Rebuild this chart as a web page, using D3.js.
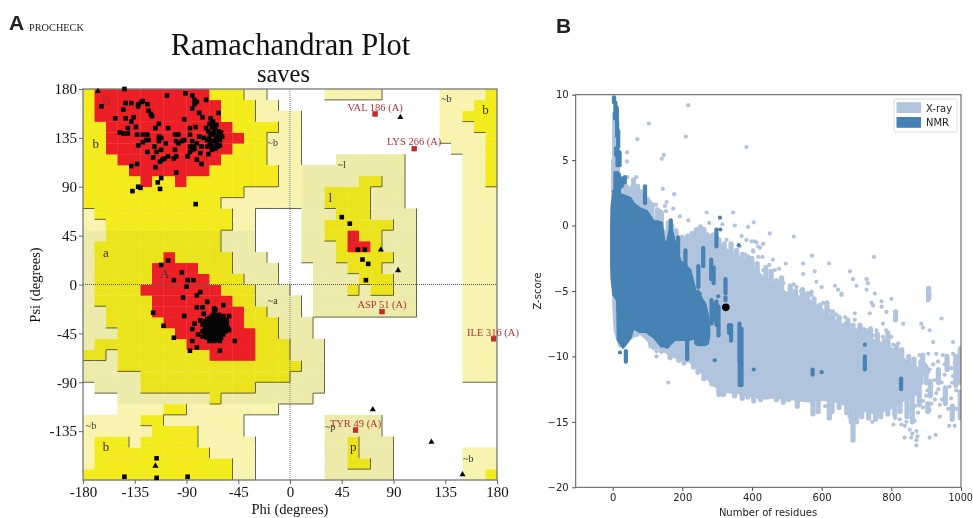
<!DOCTYPE html>
<html>
<head>
<meta charset="utf-8">
<script src="https://cdn.jsdelivr.net/npm/d3@7"></script>
<style>
  html, body { margin: 0; padding: 0; background: #fff; }
  svg { display: block; filter: blur(0.55px); }
  .rama text { font-family: "Liberation Serif", serif; }
  .zplot text { font-family: "DejaVu Sans", sans-serif; }
</style>
</head>
<body>
<svg id="chart" width="973" height="518"></svg>
<script>
// Ramachandran regions, each row is [psi top, psi bottom, phi left, phi right]
const paleRows = [
  [180,170,-180,-20],[180,170,30,80],[180,130,130,180],[170,160,-180,-10],[160,110,-180,10],
  [130,120,140,180],[120,-90,150,180],[120,110,40,100],[110,70,-180,100],[70,30,-180,-30],
  [30,20,-180,-20],[20,0,-180,-10],[0,-10,-180,0],[-10,-30,-180,10],[-30,-50,-180,20],
  [-50,-90,-180,30],[-90,-100,-170,30],[-100,-110,-150,20],[-110,-120,-150,-10],
  [-120,-140,-180,-40],[-140,-180,-180,-30],[70,20,10,110],[20,-30,20,110],
  [-120,-140,30,80],[-140,-180,30,90],[-150,-180,150,180]
];
const yellowRows = [
  [180,170,-180,-40],[170,150,-180,-30],[150,140,-180,-10],[140,110,-180,-20],[110,90,-180,-10],
  [90,80,-180,-40],[80,70,-180,-60],[70,60,-170,-50],[60,50,-160,-50],[50,40,-160,-60],
  [40,30,-170,-60],[30,10,-170,-50],[10,0,-170,-40],[0,-20,-170,-30],[-20,-30,-160,-20],
  [-30,-40,-160,-10],[-40,-50,-150,-10],[-50,-60,-170,0],[-60,-70,-180,-160],[-60,-70,-150,0],
  [-70,-80,-150,10],[-80,-90,-130,0],[-90,-100,-130,-30],[-100,-110,-70,-60],
  [-110,-120,-110,-90],[-120,-130,-130,-110],[-130,-140,-120,-80],[-140,-150,-170,-140],
  [-140,-150,-130,-80],[-150,-160,-170,-70],[-160,-170,-170,-50],[-170,-180,-180,-50],
  [100,90,60,80],[90,70,30,70],[70,60,40,70],[60,50,30,90],[50,40,30,80],[40,30,40,80],
  [30,20,40,90],[20,10,50,80],[10,0,60,90],[0,-10,50,60],[0,-10,70,90],
  [-140,-160,50,60],[-160,-170,50,70],
  [180,170,170,180],[170,160,160,180],[160,150,150,180],[150,140,160,180],[140,90,170,180],
  [-170,-180,170,180]
];
const redRows = [
  [180,170,-170,-70],[170,150,-170,-60],[150,140,-160,-50],[140,130,-160,-40],[130,120,-160,-50],
  [120,110,-150,-60],[110,100,-140,-70],[100,90,-130,-120],[100,90,-100,-90],
  [30,20,-110,-100],[20,10,-120,-80],[10,0,-120,-70],[0,-10,-130,-60],[-10,-20,-120,-50],
  [-20,-30,-120,-40],[-30,-40,-110,-40],[-40,-50,-100,-30],[-50,-60,-90,-30],[-60,-70,-70,-30],
  [50,40,50,60],[40,30,50,70]
];
// parts of the scan that came out slightly greener
const tintRows = [[50,-110,-180,40],[120,-30,10,110],[-120,-180,30,90]];

const regionLabels = [
  ["B",-160,168,"#b0242c"],["b",-169,128,"#333"],["~b",-15,130,"#333"],["a",-160,28,"#333"],
  ["A",-109,9,"#333"],["~a",-15,-16,"#333"],["~l",45,109,"#333"],["l",35,79,"#333"],
  ["L",54,43,"#a5262e"],["~b",136,170,"#333"],["b",170,160,"#333"],["~b",-173,-131,"#333"],
  ["b",-160,-151,"#333"],["~p",35,-132,"#333"],["p",55,-151,"#333"],["~b",155,-161,"#333"]
];

const generalResidues = [
  [-144,180],[-164,164],[-143,167],[-138,167],[-145,161],[-132,166],[-129,168],[-128,169],[-124,166],[-132,164],
  [-123,160],[-121,157],[-120,155],[-152,153],[-143,153],[-136,154],[-138,150],[-141,144],[-148,140],[-145,139],
  [-141,139],[-134,145],[-133,138],[-107,174],[-91,176],[-85,174],[-83,170],[-81,168],[-83,166],[-73,170],
  [-85,162],[-79,158],[-76,154],[-62,158],[-92,152],[-114,148],[-117,144],[-106,144],[-87,144],[-82,145],
  [-87,138],[-73,144],[-128,138],[-124,138],[-114,136],[-112,135],[-125,133],[-123,133],[-128,131],[-132,128],
  [-114,132],[-118,127],[-108,130],[-124,122],[-119,117],[-116,122],[-112,124],[-100,138],[-97,138],[-99,132],
  [-97,130],[-94,132],[-92,133],[-100,124],[-106,118],[-109,116],[-111,115],[-113,113],[-101,116],[-99,118],
  [-89,118],[-85,132],[-87,127],[-84,127],[-85,124],[-87,122],[-83,125],[-79,136],[-75,135],[-77,127],
  [-81,130],[-78,121],[-71,120],[-81,115],[-77,111],[-138,109],[-133,111],[-117,108],[-99,103],[-112,98],
  [-115,94],[-137,86],[-132,90],[-130,89],[-113,88],[-82,74],
  [-69,153],[-67,150],[-70,148],[-67,148],[-64,147],[-68,145],[-65,144],[-71,141],[-69,139],[-67,138],
  [-62,141],[-59,136],[-64,135],[-61,133],[-70,135],[-72,133],[-67,132],[-64,130],[-61,128],[-67,127],
  [-70,128],[-65,125],[-68,124],[-66,141],[-63,137],[-69,131],[-63,127],[-65,133],[-60,140],[-72,127],
  [-106,22],[-112,18],[-94,11],[-101,4],[-89,4],[-84,4],[-90,-2],[-78,-7],[-81,-10],[-93,-12],
  [-72,-16],[-81,-21],[-76,-21],[-66,-22],[-65,-23],[-58,-19],[-75,-27],[-119,-26],[-92,-29],[-110,-38],
  [-83,-36],[-78,-33],[-85,-41],[-101,-49],[-80,-46],[-85,-52],[-81,-58],[-87,-61],[-61,-61],[-48,-52],
  [-53,-29],[-53,-42],
  [-66,-28],[-62,-28],[-58,-29],[-70,-31],[-66,-31],[-62,-31],[-58,-32],[-55,-33],[-74,-34],[-70,-34],
  [-66,-34],[-62,-34],[-58,-35],[-55,-36],[-76,-37],[-72,-37],[-68,-37],[-64,-37],[-60,-37],[-56,-38],
  [-74,-40],[-70,-40],[-66,-40],[-62,-40],[-58,-40],[-54,-40],[-76,-43],[-72,-43],[-68,-43],[-64,-43],
  [-60,-43],[-56,-43],[-74,-46],[-70,-46],[-66,-46],[-62,-46],[-58,-46],[-72,-49],[-68,-49],[-64,-49],
  [-60,-49],[-70,-52],[-66,-52],[-61,-52],[-76,-48],[-66,-26],
  [-68,-29],[-64,-30],[-60,-30],[-72,-32],[-68,-33],[-64,-33],[-60,-33],[-70,-36],[-66,-36],[-62,-36],
  [-58,-37],[-72,-39],[-68,-39],[-64,-39],[-60,-39],[-56,-41],[-74,-42],[-70,-42],[-66,-42],[-62,-42],
  [-58,-42],[-72,-45],[-68,-45],[-64,-45],[-60,-45],[-70,-48],[-66,-48],[-62,-48],[-68,-51],[-64,-51],
  [45,62],[52,56],[59,32],[65,32],[63,23],[68,19],[66,4],
  [-144,-177],[-116,-160],[-116,-178],[-89,-177]
];
const glycines = [[-167,178],[96,154],[79,32],[94,13],[72,-115],[123,-145],[150,-175],[-117,-167]];
// label, phi and psi of the residue, phi and psi of its caption
const outliers = [
  ["VAL 186 (A)",74,157,74,160],["LYS 266 (A)",108,125,108,128],["ASP 51 (A)",80,-25,80,-21.6],
  ["ILE 316 (A)",177,-50,176.5,-47.4],["TYR 49 (A)",57,-134,57,-131]
];
const phiTicks = [-180,-135,-90,-45,0,45,90,135,180];
const psiTicks = [-135,-90,-45,0,45,90,135,180];

// Z-score panel, dense clouds are read as upper and lower edges
const xrayRes = [3,7,20,30,50,78,100,117,135,155,175,193,222,250,280,298,330,365,400,430,460,500,530,560,600,640,670,700,750,795,843,881];
const xrayTop = [2,2.5,3.4,3.4,2.7,1.5,1,0.5,0.2,-0.8,-1.2,-1.6,-0.9,-0.4,-1,-1.3,-1.9,-2.5,-3.2,-3.9,-4.5,-5.2,-5.4,-5.7,-6.4,-7.3,-7.8,-8.2,-8.8,-9.3,-10.4,-11];
const xrayBottom = [-6,-8,-9.2,-9,-8.6,-8.2,-8.7,-9.4,-9.3,-9.7,-10,-10.2,-10.4,-11,-11.9,-12.3,-12.7,-12.8,-13,-13.2,-13.1,-13.2,-13.3,-13.4,-13.3,-13.4,-13.7,-14,-14.3,-14,-13.2,-12.6];
const nmrRes = [-3,-2,3,14,16,30,50,59,78,97,117,128,140,148,157,167,178,188,193,222,236,242];
const nmrTop = [0,1.5,2.4,2.5,2.4,2.3,2.1,1.7,1.3,1.1,0.3,0.3,0.2,-1.3,-1.3,-0.1,-1.3,-2.1,-2.7,-3.4,-4.9,-5.4];
const nmrBottom = [-3,-4,-5.3,-5.7,-8.7,-9.3,-8.6,-7.8,-8.1,-8.1,-8.5,-8.8,-9.2,-9.2,-9.3,-9,-8.7,-8.7,-8.7,-8.7,-8.6,-8.6];
const nmrPatchRes = [238,245,255,265,272,276];
const nmrPatchTop = [-5.2,-5,-5.6,-6,-6.8,-7.5];
const nmrPatchBottom = [-9,-9.1,-9.1,-9.1,-9,-8.5];

// runs of points stacked at one chain length: [residues, top, bottom]
const xrayColumns = [
  [6,8,4.5],[10,7,4.7],[3,5,2],[14,5,3],
  [60,3.5,1],[72,3,1],[85,2.6,0.5],[100,2,0],[112,1.6,0],[128,1.2,-1],[140,1,-1],[160,0.2,-2],
  [170,0,-2],[182,-0.4,-3],[200,-0.9,-3],[215,-0.8,-3],[228,-0.6,-3],[240,-0.3,-3],[252,-0.1,-3],[262,-0.3,-3],
  [272,-0.7,-3],[288,-0.7,-3],[305,-1.1,-4],[320,-1.4,-4],[340,-1.4,-4],[356,-1.9,-4],[372,-2.2,-4],[388,-2.4,-4],
  [400,-2.5,-5],[415,-2.9,-5],[440,-3.2,-5],[455,-3.5,-6],[470,-4.2,-6],[485,-4,-6],[510,-4.6,-7],[525,-5,-7],
  [545,-4.9,-7],[560,-5.2,-7],[578,-5.6,-7.5],[595,-6.1,-8],[615,-5.9,-8],[632,-6.6,-9],[650,-7,-9],[675,-7.2,-9.5],
  [690,-7.6,-9.5],[710,-7.6,-10],[725,-8,-10],[740,-7.9,-10],[760,-8.3,-10],[780,-8.8,-10.5],[790,-8.2,-10.5],[815,-9.2,-11],
  [830,-9.5,-11],[850,-10,-11.5],[865,-10.2,-11.5],[885,-10.4,-12],[900,-10.8,-12],
  [70,-7,-8.3],[110,-8,-9.2],[140,-8,-9.6],[165,-8,-10.1],[190,-8,-10.3],[205,-9,-10.5],[232,-9,-10.8],[245,-10,-11.2],
  [262,-10,-11.7],[285,-11,-12.1],[305,-11,-12.9],[318,-11,-12.9],[335,-11,-12.6],[350,-11,-13],[372,-12,-13.2],[388,-12,-13.1],
  [405,-12,-13.4],[425,-12,-13.3],[445,-12,-13.1],[470,-12,-13.3],[490,-12,-13.5],[505,-12,-13.3],[530,-12.5,-13.8],[548,-12.5,-13.3],
  [575,-13,-14.4],[590,-13,-14.2],[622,-13,-14.7],[630,-13,-14.2],[650,-13,-13.9],[672,-13,-14.3],[685,-13.5,-15],[700,-13.5,-15],
  [715,-13,-14.6],[735,-13.5,-14.7],[755,-13.5,-14.8],[770,-13.5,-14.6],[790,-13.5,-14.4],[810,-13,-14.5],[825,-13,-14.2],[845,-13,-14.6],
  [860,-12.5,-15],[880,-12.5,-13.7],
  [998,-9.4,-12],[998,-12.7,-14.7],[890,-9.9,-11.3],[912,-11.9,-13],[935,-11,-12],[960,-10,-11],[955,-12.4,-13.6],[975,-13.8,-14.8],
  [985,-10,-12.2],[870,-11,-12.8],[905,-13.6,-14.2],[690,-14.8,-16.4],[812,-6.6,-7.2],[907,-4.8,-5.6]
];
const nmrColumns = [
  [4,9.8,9.4],[8,9.4,8.8],[12,9,8],[6,8.6,8.2],[13,7.9,6.8],[16,7.2,6],[10,5.9,5.4],[14,5.8,4.6],[20,5.6,4.6],
  [8,4,2.4],[13,4,2.4],[18,3.9,2.4],[26,3.6,3],[35,3.7,3.3],[93,3,1.7],
  [298,-0.3,-1.6],[260,-1.7,-3.1],[209,-1.9,-3.4],[188,-0.9,-2.1],[167,0.4,-1],[246,-3.1,-4.7],[283,-2.6,-4.1],[290,-3.2,-4.4],
  [324,-4.1,-5.2],[324,-5.5,-5.7],[284,-5.7,-7.5],[288,-6,-7.2],[298,-5.8,-7.6],[304,-6.2,-8.4],
  [364,-7.5,-10.4],[368,-8,-12],[370,-7.9,-12.2],[365,-10.5,-12.2],[38,-9.6,-10.4],[574,-11,-11.4],[724,-10,-11],[828,-11.7,-12.5],
  [214,-8.5,-10.2],[334,-7.6,-8.2],[340,-7.6,-8.8]
];
const xrayPoints = [
  [217,9.2],[104,7.8],[210,6.8],[71,6.6],[384,6],[147,5.4],[141,5.1],[41,5.6],[41,4.9],[68,3.7],
  [144,2.8],[177,2.4],[42,3.7],[54,2.9],[107,1.8],[124,1.6],[155,1.8],
  [150,1.5],[174,1.3],[136,1.1],[153,1.1],[117,1.5],[270,1],[346,1],[217,0.4],[193,0.7],[277,0.2],
  [315,0.1],[351,0],[389,-0.1],[405,0.25],[250,-0.2],[279,-0.8],[327,-1.1],
  [370,-0.8],[384,-1.1],[399,-1.2],[413,-1.3],[365,-1.6],[317,-1.7],[403,-1.9],[418,-1.6],
  [451,-0.6],[520,-0.84],[572,-2.3],[750,-2.4],[621,-2.9],[547,-2.9],[497,-2.9],[681,-3.5],[580,-3.5],[547,-3.7],
  [585,-4.3],[690,-4.1],[729,-4.1],[733,-4.4],[700,-4.6],[647,-4.9],[657,-5.2],[729,-4.9],[753,-5.2],[800,-5.6],
  [638,-4.6],[571,-5.3],[600,-4.7],[528,-4.7],[490,-4.4],[466,-3.4],[478,-3.3],
  [432,-1.4],[408,-1.2],[404,-2],[423,-1.7],[418,-2.4],[430,-2.4],[432,-3.4],[413,-3.4],[504,-5.2],[450,-3],
  [520,-4.5],[540,-5],[460,-2.6],[380,-2.2],[340,-1.5],[300,-0.9],[160,-12],[4,-6],
  [126,-9.6],[126,-10],[571,-5.05],[604,-5.9],[614,-6.6],[622,-6.5],[590,-6.3],[657,-5.3],[642,-6.8],[667,-7],
  [667,-7.5],[633,-7.6],[695,-6.7],[695,-7.2],[743,-5.9],[748,-6.1],[772,-5.8],[772,-6.2],[786,-6.6],
  [834,-7.5],[776,-7.5],[738,-6.7],[700,-8],[757,-8],[776,-8.5],[800,-8.5],
  [805,-9.1],[767,-9],[810,-9.5],[824,-9.8],[748,-8.4],[886,-7.5],[891,-7.8],[910,-8],[944,-7.1],[920,-8.9],
  [977,-8.9],[905,-5.7],[910,-5.3],[660,-7.8],[680,-7.6],[720,-7.9],[730,-8.3],[785,-8],[820,-9],
  [881,-9.9],[891,-10.2],[906,-9.8],[929,-9.8],[948,-9.9],[977,-9.8],
  [896,-10.6],[910,-11],[920,-10.6],[934,-10.4],[953,-10.6],[972,-10.9],[982,-10.5],[934,-11.2],[953,-11.4],
  [977,-11.5],[881,-11.7],[900,-11.8],[924,-11.8],[944,-12],[967,-12.3],[986,-12.6],[881,-12.3],[904,-12.6],
  [929,-12.8],[953,-13.1],[972,-13.2],[891,-13.4],[915,-13.6],[939,-13.7],[963,-14],
  [939,-14.6],[877,-14.3],[891,-13.9],[853,-14],[867,-13.8],[986,-14],
  [905,-11.2],[915,-12.2],[935,-12.5],[975,-12],[960,-11],[900,-13],[925,-13.3],[945,-13.3],[910,-14.1],
  [872,-16.8],[872,-16.4],[875,-16.1],[872,-15.7],[853,-15.6],[839,-15.3],[838,-16.2],[857,-16.2],[806,-15.2],[910,-16.2],
  [927,-16],[966,-15.3],[982,-15.3],[745,-15],[811,-14.7],[824,-14.8],[829,-15.2],[843,-15],[867,-14.9],[860,-15.9],
  [680,-14.6],[760,-14.5],[610,-13.8]
];
const nmrPoints = [
  [308,0.6],[309,-0.3],[362,-1.5],[303,-5.4],[250,-5.2],[293,-10.3],[405,-11],[21,-9.7],[600,-11.2],[724,-9.1],[4,2.6]
];
const queryPoint = [[325,-6.25]];
const zTicks = [-20,-15,-10,-5,0,5,10];
const resTicks = [0,200,400,600,800,1000];
const legendItems = [["X-ray","#b0c4de"],["NMR","#4682b4"]];

const svg = d3.select("#chart");

//Left panel, the Ramachandran plot
const x = d3.scaleLinear().domain([-180, 180]).range([83, 497]);
const y = d3.scaleLinear().domain([-180, 180]).range([480, 89]);

// build a 10 degree grid of region levels so the borders can be worked out
const grid = d3.range(36).map(() => d3.range(36).map(() => 0));
const paint = (rows, level) => rows.forEach(([top, bottom, left, right]) => {
  for (let psi = bottom; psi < top; psi += 10) {
    for (let phi = left; phi < right; phi += 10) {
      grid[(phi + 180) / 10][(psi + 180) / 10] = level;
    }
  }
});
paint(paleRows, 1);
paint(yellowRows, 2);
paint(redRows, 3);

const isTinted = (phi, psi) =>
  tintRows.some(([top, bottom, left, right]) => psi < top && psi >= bottom && phi >= left && phi < right);
const cellColor = (level, phi, psi) => {
  if (level === 3) return "#ec1f26";
  if (level === 2) return isTinted(phi, psi) ? "#ebe41c" : "#f3eb1b";
  return isTinted(phi, psi) ? "#ecebaa" : "#f8f4b0";
};

const rama = svg.append("g").attr("class", "rama");
const cells = [];
grid.forEach((col, i) => col.forEach((level, j) => {
  if (level > 0) cells.push({ phi: -180 + i * 10, psi: -180 + j * 10, level, i, j });
}));

rama.append("g").selectAll("rect").data(cells).join("rect")
  .attr("x", (d) => x(d.phi))
  .attr("y", (d) => y(d.psi + 10))
  .attr("width", (d) => x(d.phi + 10) - x(d.phi) + 0.3)
  .attr("height", (d) => y(d.psi) - y(d.psi + 10) + 0.3)
  .attr("fill", (d) => cellColor(d.level, d.phi, d.psi));

// dark border on the right and lower edge of yellow and pale cells
const borders = [];
cells.filter((d) => d.level < 3).forEach((d) => {
  const rightLevel = d.i < 35 ? grid[d.i + 1][d.j] : 9;
  const belowLevel = d.j > 0 ? grid[d.i][d.j - 1] : 9;
  if (rightLevel < d.level) borders.push([d.phi + 10, d.psi, d.phi + 10, d.psi + 10]);
  if (belowLevel < d.level) borders.push([d.phi, d.psi, d.phi + 10, d.psi]);
});
rama.append("g").selectAll("line").data(borders).join("line")
  .attr("x1", (d) => x(d[0])).attr("y1", (d) => y(d[1]))
  .attr("x2", (d) => x(d[2])).attr("y2", (d) => y(d[3]))
  .attr("stroke", "#55553f").attr("stroke-width", 0.9);

// dotted zero lines
rama.append("line").attr("x1", x(0)).attr("x2", x(0)).attr("y1", y(180)).attr("y2", y(-180))
  .attr("stroke", "#777").attr("stroke-dasharray", "1,1");
rama.append("line").attr("x1", x(-180)).attr("x2", x(180)).attr("y1", y(0)).attr("y2", y(0))
  .attr("stroke", "#555").attr("stroke-dasharray", "1,1");

rama.append("rect").attr("x", x(-180)).attr("y", y(180))
  .attr("width", x(180) - x(-180)).attr("height", y(-180) - y(180))
  .attr("fill", "none").attr("stroke", "#777").attr("stroke-width", 1.3);

rama.append("g").selectAll("text").data(regionLabels).join("text")
  .attr("x", (d) => x(d[1])).attr("y", (d) => y(d[2]))
  .attr("text-anchor", "middle").attr("dominant-baseline", "middle")
  .attr("font-size", (d) => (d[0].length > 1 ? 10 : 13)).attr("fill", (d) => d[3])
  .text((d) => d[0]);

rama.append("g").selectAll("rect").data(generalResidues).join("rect")
  .attr("x", (d) => x(d[0]) - 2.3).attr("y", (d) => y(d[1]) - 2.3)
  .attr("width", 4.6).attr("height", 4.6).attr("fill", "#050505");

rama.append("g").selectAll("path").data(glycines).join("path")
  .attr("d", d3.symbol(d3.symbolTriangle, 16))
  .attr("transform", (d) => `translate(${x(d[0])},${y(d[1])})`)
  .attr("fill", "#050505");

rama.append("g").selectAll("rect").data(outliers).join("rect")
  .attr("x", (d) => x(d[1]) - 2.3).attr("y", (d) => y(d[2]) - 2.3)
  .attr("width", 4.6).attr("height", 4.6)
  .attr("fill", "#dd1f2a").attr("stroke", "#8a2a2a").attr("stroke-width", 0.6);

rama.append("g").selectAll("text").data(outliers).join("text")
  .attr("x", (d) => x(d[3])).attr("y", (d) => y(d[4]))
  .attr("text-anchor", "middle").attr("font-size", 10.5).attr("fill", "#b0333a")
  .text((d) => d[0]);

const phiAxis = d3.axisBottom(x).tickValues(phiTicks).tickSize(4).tickPadding(2);
const psiAxis = d3.axisLeft(y).tickValues(psiTicks).tickSize(4).tickPadding(2);

const ramaBottom = rama.append("g").attr("transform", `translate(0,${y(-180)})`).call(phiAxis);
const ramaLeft = rama.append("g").attr("transform", `translate(${x(-180)},0)`).call(psiAxis);
[ramaBottom, ramaLeft].forEach((a) => {
  a.select(".domain").remove();
  a.selectAll("line").attr("stroke", "#666");
  a.selectAll("text").attr("font-size", 15).attr("fill", "#111").attr("font-family", "Liberation Serif")
    .text((d) => String(d));
});

rama.append("text").attr("x", 290.5).attr("y", 55).attr("text-anchor", "middle")
  .attr("font-size", 30.5).attr("fill", "#111").text("Ramachandran Plot");
rama.append("text").attr("x", 283.5).attr("y", 82).attr("text-anchor", "middle")
  .attr("font-size", 24.5).attr("fill", "#111").text("saves");
rama.append("text").attr("x", 290).attr("y", 514).attr("text-anchor", "middle")
  .attr("font-size", 14.5).attr("fill", "#111").text("Phi (degrees)");
rama.append("text").attr("transform", "translate(40,285) rotate(-90)").attr("text-anchor", "middle")
  .attr("font-size", 14.5).attr("fill", "#111").text("Psi (degrees)");
rama.append("text").attr("x", 29).attr("y", 31).attr("font-size", 10.3).attr("fill", "#222").text("PROCHECK");

svg.append("text").attr("x", 9).attr("y", 30).attr("font-family", "Liberation Sans")
  .attr("font-weight", "bold").attr("font-size", 21).attr("fill", "#222").text("A");
svg.append("text").attr("x", 556).attr("y", 33).attr("font-family", "Liberation Sans")
  .attr("font-weight", "bold").attr("font-size", 21).attr("fill", "#222").text("B");

//Right panel, Z-score against number of residues
const resScale = d3.scaleLinear().domain([-106, 1000]).range([575.7, 961]);
const zScale = d3.scaleLinear().domain([-20, 10]).range([487.3, 94.7]);

const zplot = svg.append("g").attr("class", "zplot");
zplot.append("clipPath").attr("id", "zclip").append("rect")
  .attr("x", resScale.range()[0]).attr("y", zScale.range()[1])
  .attr("width", resScale.range()[1] - resScale.range()[0])
  .attr("height", zScale.range()[0] - zScale.range()[1]);
const marks = zplot.append("g").attr("clip-path", "url(#zclip)");

const band = (res, top, bottom) => d3.area()
  .x((d, i) => resScale(res[i]))
  .y0((d, i) => zScale(bottom[i]))
  .y1((d, i) => zScale(top[i]))(res);

const drawLayer = (color, bands, columns, points, columnWidth) => {
  bands.forEach(([res, top, bottom]) => {
    marks.append("path").attr("d", band(res, top, bottom))
      .attr("fill", color).attr("stroke", color).attr("stroke-width", 3).attr("stroke-linejoin", "round");
  });
  marks.append("g").selectAll("line").data(columns).join("line")
    .attr("x1", (d) => resScale(d[0])).attr("x2", (d) => resScale(d[0]))
    .attr("y1", (d) => zScale(d[1])).attr("y2", (d) => zScale(d[2]))
    .attr("stroke", color).attr("stroke-width", columnWidth).attr("stroke-linecap", "round");
  marks.append("g").selectAll("circle").data(points).join("circle")
    .attr("cx", (d) => resScale(d[0])).attr("cy", (d) => zScale(d[1])).attr("r", 2.1).attr("fill", color);
};
drawLayer("#b0c4de", [[xrayRes, xrayTop, xrayBottom]], xrayColumns, xrayPoints, 5.2);
drawLayer("#4682b4", [[nmrRes, nmrTop, nmrBottom], [nmrPatchRes, nmrPatchTop, nmrPatchBottom]], nmrColumns, nmrPoints, 4.2);

marks.append("g").selectAll("circle").data(queryPoint).join("circle")
  .attr("cx", (d) => resScale(d[0])).attr("cy", (d) => zScale(d[1])).attr("r", 3.8).attr("fill", "#000");

const resAxis = d3.axisBottom(resScale).tickValues(resTicks).tickSize(3.5).tickPadding(3.5)
  .tickFormat(d3.format("d"));
const zAxis = d3.axisLeft(zScale).tickValues(zTicks).tickSize(3.5).tickPadding(3.5)
  .tickFormat((d) => String(d).replace("-", "\u2212"));
const resAxisG = zplot.append("g").attr("transform", `translate(0,${zScale(-20)})`).call(resAxis);
const zAxisG = zplot.append("g").attr("transform", `translate(${resScale(-106)},0)`).call(zAxis);
[resAxisG, zAxisG].forEach((a) => {
  a.select(".domain").remove();
  a.selectAll("line").attr("stroke", "#444");
  a.selectAll("text").attr("font-size", 10).attr("fill", "#222").attr("font-family", "DejaVu Sans");
});
// 1000 sits on the window edge, as in the source figure
resAxisG.selectAll("text").filter((d) => d === 1000).attr("font-size", 9.6).attr("dx", -0.8);

zplot.append("rect").attr("x", 575.7).attr("y", 94.7).attr("width", 961 - 575.7).attr("height", 487.3 - 94.7)
  .attr("fill", "none").attr("stroke", "#555").attr("stroke-width", 1);

zplot.append("text").attr("x", 768).attr("y", 516).attr("text-anchor", "middle")
  .attr("font-size", 10).attr("fill", "#222").text("Number of residues");
zplot.append("text").attr("transform", "translate(541,291) rotate(-90)").attr("text-anchor", "middle")
  .attr("font-size", 10).attr("fill", "#222").text("Z-score");

//Legend
const legend = zplot.append("g").attr("transform", "translate(894,99)");
legend.append("rect").attr("width", 63).attr("height", 33).attr("rx", 2)
  .attr("fill", "#fff").attr("stroke", "#dcdcdc");
legendItems.forEach((item, i) => {
  legend.append("rect").attr("x", 2.5).attr("y", 3.2 + i * 14.8).attr("width", 24.5).attr("height", 10.8).attr("fill", item[1]);
  legend.append("text").attr("x", 32).attr("y", 12.5 + i * 14.8).attr("font-size", 10).attr("fill", "#222").text(item[0]);
});
</script>
</body>
</html>
